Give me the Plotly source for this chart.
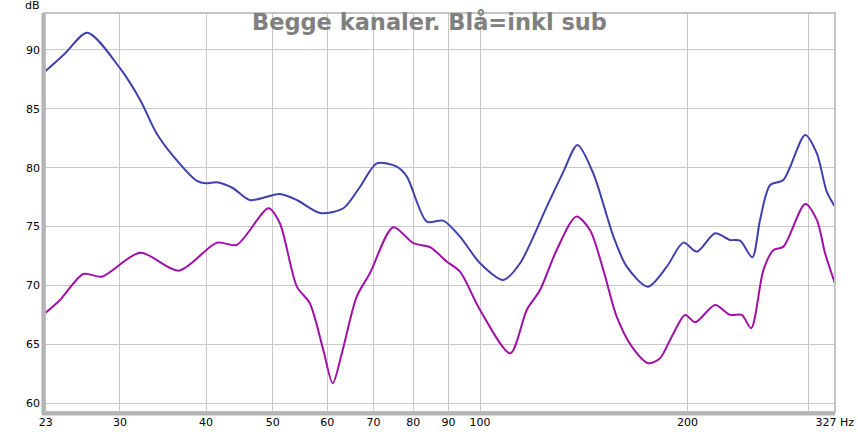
import plotly.graph_objects as go
import numpy as np

# Blue: both channels incl. sub
blue_f = [23.35, 24.97, 26.9, 30.0, 32.1, 33.9, 35.9, 38.8, 40.0, 41.5, 43.8, 46.3, 51.2, 54.2,
          58.6, 63.3, 67.0, 70.8, 75.7, 78.3, 83.7, 88.4, 93.5, 100.0, 108.1, 114.3, 125.0,
          132.0, 138.5, 146.0, 156.2, 163.3, 175.2, 186.7, 197.3, 206.4, 219.4, 230.7, 238.5,
          248.5, 255.0, 263.7, 275.7, 296.5, 308.3, 318.7, 327.5]
blue_db = [88.16, 89.7, 91.47, 88.45, 85.75, 82.92, 80.93, 78.87, 78.67, 78.76, 78.25, 77.25,
           77.77, 77.25, 76.15, 76.55, 78.4, 80.37, 80.09, 79.24, 75.41, 75.5, 74.14, 71.88,
           70.46, 71.88, 76.69, 79.6, 81.93, 79.52, 74.14, 71.59, 69.89, 71.59, 73.63, 72.86,
           74.43, 73.86, 73.8, 72.39, 75.56, 78.53, 78.96, 82.78, 81.22, 77.96, 76.69]

# Magenta: without sub
mag_f = [23.35, 24.55, 26.55, 28.23, 32.1, 36.5, 41.5, 44.3, 49.3, 51.2, 54.2, 56.6, 59.2,
         61.1, 63.0, 66.2, 69.2, 74.8, 80.0, 84.6, 89.5, 93.5, 100.0, 110.6, 116.9, 122.2,
         129.2, 137.9, 144.4, 151.0, 157.9, 166.1, 175.5, 182.5, 189.8, 198.5, 205.3, 219.4,
         230.7, 239.9, 247.5, 257.9, 266.7, 275.7, 296.5, 308.3, 316.9, 327.5]
mag_db = [67.63, 68.76, 70.97, 70.74, 72.78, 71.25, 73.63, 73.43, 76.55, 75.28, 69.89, 68.48,
          64.51, 61.68, 64.23, 69.04, 71.03, 74.94, 73.58, 73.24, 72.01, 71.16, 67.91, 64.23,
          67.91, 69.6, 73.01, 75.84, 74.71, 71.31, 67.34, 64.79, 63.38, 63.81, 65.64, 67.49,
          66.86, 68.33, 67.49, 67.49, 66.36, 71.31, 73.01, 73.29, 76.92, 75.56, 72.73, 70.18]

x_tickvals = [23.4, 30, 40, 50, 60, 70, 80, 90, 100, 200, 300, 327.4]
x_ticktext = ["23", "30", "40", "50", "60", "70", "80", "90", "100", "200", "", "327 Hz"]
y_tickvals = [60, 65, 70, 75, 80, 85, 90]

title_text = "Begge kanaler. Blå=inkl sub"

fig = go.Figure()
fig.add_trace(go.Scatter(x=mag_f, y=mag_db, mode="lines",
                         line=dict(color="#a010a8", width=2, shape="spline", smoothing=0.8),
                         showlegend=False, hoverinfo="skip"))
fig.add_trace(go.Scatter(x=blue_f, y=blue_db, mode="lines",
                         line=dict(color="#4040ac", width=2, shape="spline", smoothing=0.8),
                         showlegend=False, hoverinfo="skip"))

font = "DejaVu Sans"
fig.update_layout(
    width=858, height=432,
    margin=dict(l=45, r=23, t=13, b=20, autoexpand=False),
    paper_bgcolor="white", plot_bgcolor="white",
    font=dict(family=font, size=11, color="black"),
    xaxis=dict(type="log", range=[np.log10(23.35), np.log10(327.6)],
               tickvals=x_tickvals, ticktext=x_ticktext, automargin=False,
               showgrid=True, gridcolor="#c8c8c8", gridwidth=1,
               zeroline=False, showline=False, ticks="", ticklabelstandoff=2,
               tickfont=dict(family=font, size=11, color="black")),
    yaxis=dict(range=[59.24, 93.14], tickvals=y_tickvals, automargin=False,
               showgrid=True, gridcolor="#c8c8c8", gridwidth=1,
               zeroline=False, showline=False, ticks="", ticklabelstandoff=4,
               tickfont=dict(family=font, size=11, color="black")),
    annotations=[
        dict(text=title_text, xref="paper", yref="paper", x=0.487, y=0.977,
             xanchor="center", yanchor="middle", showarrow=False,
             font=dict(family=font, size=22.5, color="#808080", weight="bold")),
        dict(text="dB", xref="paper", yref="paper", x=-0.004, y=1.0, yshift=8,
             xanchor="right", yanchor="middle", showarrow=False,
             font=dict(family=font, size=11, color="black")),
    ],
    shapes=[
        dict(type="rect", xref="paper", yref="paper", x0=0, x1=1, y0=0, y1=1,
             line=dict(color="#c4c4c4", width=2), layer="above"),
        dict(type="line", xref="paper", yref="paper", x0=-0.002, x1=-0.002, y0=-0.004, y1=1,
             line=dict(color="#b4b4b4", width=4), layer="above"),
        dict(type="line", xref="paper", yref="paper", x0=-0.004, x1=1, y0=-0.004, y1=-0.004,
             line=dict(color="#b4b4b4", width=4), layer="above"),
    ],
)

fig.write_html("out.html", config={"displayModeBar": False},
               post_script="document.body.style.margin='0';document.body.style.overflow='hidden';")
